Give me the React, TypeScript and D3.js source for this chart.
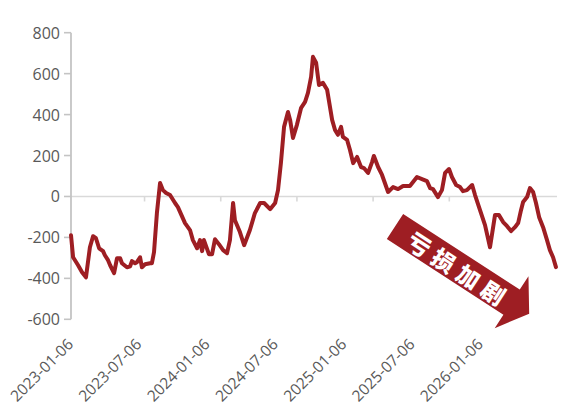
import React from "react";
import * as d3 from "d3";

// week offset from 2023-01-06 (fractional where read between weekly points)
const weeks = [
  0, 0.8, 2.7, 4.2, 5.7, 7.2, 8.4, 9.5, 10.7, 12.2, 12.9, 14.1, 14.9, 16.4, 17.5, 18.7, 19.4, 21.3, 22.5, 23.2,
  24.4, 25.1, 26.3, 27.0, 28.2, 30.1, 30.8, 31.6, 32.7, 33.9, 35.0, 36.2, 37.7, 39.6, 40.7, 43.4, 45.3, 46.4, 48.0, 49.1,
  49.9, 50.6, 52.5, 53.7, 54.8, 56.3, 57.9, 59.4, 60.5, 61.7, 62.4, 64.3, 65.9, 68.1, 70.0, 72.0, 73.5, 75.8, 77.7, 78.8,
  79.9, 81.1, 82.6, 83.4, 84.5, 86.0, 87.6, 89.1, 90.2, 91.4, 92.1, 93.3, 94.4, 95.9, 97.5, 99.4, 100.5, 101.6, 102.8, 103.5,
  105.1, 106.2, 107.4, 108.9, 110.4, 111.5, 113.1, 114.6, 115.3, 116.9, 118.4, 120.7, 122.6, 124.5, 126.4, 129.0, 131.7, 133.6, 135.5, 136.7,
  137.8, 139.7, 141.2, 142.4, 143.9, 145.0, 146.6, 148.1, 149.2, 150.7, 152.7, 153.8, 155.7, 157.6, 159.5, 161.4, 162.9, 164.5, 166.0, 167.5,
  169.0, 170.2, 171.3, 172.1, 173.6, 174.7, 175.9, 177.0, 178.2, 179.7, 181.2, 182.3, 183.5, 184.6,
];

const values = [
  -189, -297, -336, -370, -395, -248, -194, -204, -253, -267, -287, -311, -336, -375, -302, -302, -326, -346, -341, -316,
  -326, -321, -297, -346, -331, -326, -326, -272, -81, 66, 31, 17, 7, -32, -52, -130, -164, -213, -253, -213,
  -267, -213, -282, -282, -209, -233, -262, -277, -213, -32, -116, -174, -238, -164, -81, -32, -32, -62, -32, 31,
  163, 340, 413, 374, 286, 350, 433, 462, 506, 584, 682, 653, 545, 555, 521, 374, 325, 301, 340, 291,
  276, 227, 163, 193, 144, 139, 115, 168, 198, 144, 105, 22, 46, 36, 51, 51, 95, 85, 75, 41,
  36, -3, 31, 115, 134, 95, 56, 46, 26, 31, 56, 7, -67, -140, -248, -91, -91, -125, -145, -169,
  -150, -130, -67, -27, -3, 41, 22, -32, -101, -150, -213, -262, -297, -345,
];

const xLabelWeeks = [0, 26, 52, 78, 104, 130, 156];
const xLabels = ["2023-01-06", "2023-07-06", "2024-01-06", "2024-07-06", "2025-01-06", "2025-07-06", "2026-01-06"];
const zeroTickWeeks = [28, 57, 86, 115, 144, 173];
const yTicks = [-600, -400, -200, 0, 200, 400, 600, 800];
const arrowText = ["亏", "损", "加", "剧"];

const W = 579;
const H = 417;
const LINE = "#9e1e23";
const AXIS = "#c4c4c4";
const FONT = "'Open Sans', 'Noto Sans', sans-serif";

export default function App() {
  const x = d3.scaleLinear().domain([0, 185]).range([71, 557]);
  const y = d3.scaleLinear().domain([-600, 800]).range([319.3, 32.7]);
  const pts = weeks.map((w, i) => [w, values[i]] as [number, number]);
  const line = d3
    .line<[number, number]>()
    .x((d) => x(d[0]))
    .y((d) => y(d[1]))
    .curve(d3.curveLinear);

  const y0 = y(0);
  const arrowPts = [
    [0, -15], [139, -15], [139, -31], [160, 0], [139, 31], [139, 15], [0, 15],
  ];

  return (
    <svg
      width={W}
      height={H}
      style={{ position: "absolute", left: 0, top: 0, display: "block", background: "#fff" }}
    >
      <line x1={x(0)} x2={x(185)} y1={y0} y2={y0} stroke="#d9d9d9" strokeWidth={1.6} />
      {zeroTickWeeks.map((w) => (
        <line key={w} x1={x(w)} x2={x(w)} y1={y0} y2={y0 + 5} stroke="#d9d9d9" strokeWidth={1.6} />
      ))}
      <line x1={71} x2={71} y1={y(800)} y2={y(-600)} stroke={AXIS} strokeWidth={1.8} />
      {yTicks.map((t) => (
        <g key={t}>
          <line x1={64} x2={71} y1={y(t)} y2={y(t)} stroke={AXIS} strokeWidth={1.6} />
          <text
            x={60}
            y={y(t)}
            textAnchor="end"
            dominantBaseline="central"
            fontFamily={FONT}
            fontSize={16}
            fill="#595959"
          >
            {t}
          </text>
        </g>
      ))}
      {xLabelWeeks.map((w, i) => (
        <text
          key={w}
          transform={`translate(${x(w) - 1},${341}) rotate(-45)`}
          textAnchor="end"
          dominantBaseline="central"
          fontFamily={FONT}
          fontSize={15.5}
          fill="#595959"
        >
          {xLabels[i]}
        </text>
      ))}
      <path
        d={line(pts) || ""}
        fill="none"
        stroke={LINE}
        strokeWidth={4}
        strokeLinejoin="round"
        strokeLinecap="round"
      />
      <g transform="translate(395,226.5) rotate(33)">
        <polygon points={arrowPts.map((p) => p.join(",")).join(" ")} fill={LINE} />
        {arrowText.map((c, i) => (
          <text
            key={c}
            x={30 + 29.5 * i}
            y={1}
            textAnchor="middle"
            dominantBaseline="central"
            fontFamily="'Noto Sans CJK SC', sans-serif"
            fontWeight={900}
            fontSize={23}
            fill="#fff"
          >
            {c}
          </text>
        ))}
      </g>
    </svg>
  );
}
